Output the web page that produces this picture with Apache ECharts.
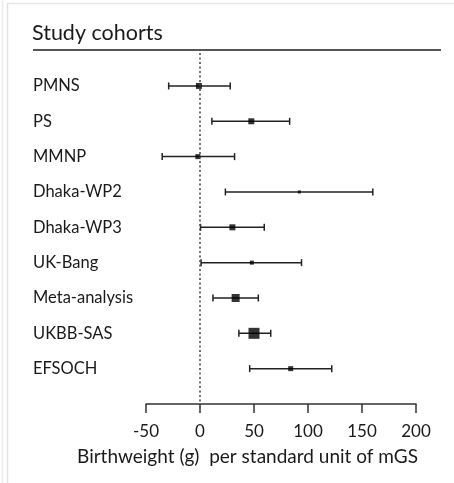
<!DOCTYPE html>
<html>
<head>
<meta charset="utf-8">
<script src="https://cdn.jsdelivr.net/npm/echarts@6/dist/echarts.min.js"></script>
<style>
  html, body { margin: 0; padding: 0; background: #fff; }
  #chart { width: 454px; height: 483px; }
</style>
</head>
<body>
<div id="chart"></div>
<script>
// Forest plot: birthweight effect per standard unit of mGS, by cohort
const cohorts = ['PMNS', 'PS', 'MMNP', 'Dhaka-WP2', 'Dhaka-WP3', 'UK-Bang', 'Meta-analysis', 'UKBB-SAS', 'EFSOCH'];
const estimates = [-1, 47.5, -2, 92, 30, 48, 33, 50, 84];
const lowerCI = [-29, 11, -35, 23.5, 0.5, 1, 12, 36, 46];
const upperCI = [28, 83, 32, 160, 59.5, 94, 54, 65.5, 122];
// square marker sizes (px), scaled by study weight
const markerSize = [6, 6, 5, 3, 6, 4, 8, 11, 5];
const xTicks = [-50, 0, 50, 100, 150, 200];

const font = 'Lato, "Open Sans", sans-serif';
const ink = '#1a1a1a';

const chart = echarts.init(document.getElementById('chart'), null, { renderer: 'canvas' });

const barData = cohorts.map((c, i) => [i, lowerCI[i], upperCI[i]]);
const pointData = cohorts.map((c, i) => ({ value: [estimates[i], i], symbolSize: markerSize[i] }));

chart.setOption({
  animation: false,
  backgroundColor: '#fff',
  grid: { left: 146, right: 38, top: 50.6, bottom: 79 },
  xAxis: {
    type: 'value',
    min: xTicks[0],
    max: xTicks[xTicks.length - 1],
    interval: 50,
    splitLine: { show: false },
    axisLine: { show: true, onZero: false, lineStyle: { color: '#333', width: 1.5 } },
    axisTick: { show: true, length: 9, lineStyle: { color: '#333', width: 1.5 } },
    axisLabel: { color: ink, fontSize: 17, fontFamily: font, margin: 19 }
  },
  yAxis: {
    type: 'value',
    inverse: true,
    min: -1,
    max: cohorts.length,
    interval: 1,
    splitLine: { show: false },
    axisLine: { show: false },
    axisTick: { show: false },
    axisLabel: {
      align: 'left',
      margin: 113,
      color: ink,
      fontSize: 16.5,
      fontFamily: font,
      formatter: v => (v >= 0 && v < cohorts.length) ? cohorts[v] : ''
    }
  },
  graphic: [
    { type: 'line', shape: { x1: 7, y1: 3.5, x2: 454, y2: 3.5 }, style: { stroke: '#e6e6e6', lineWidth: 1.5 }, silent: true },
    { type: 'line', shape: { x1: 2.5, y1: 0, x2: 2.5, y2: 483 }, style: { stroke: '#ececec', lineWidth: 1.5 }, silent: true },
    { type: 'line', shape: { x1: 7.5, y1: 3, x2: 7.5, y2: 483 }, style: { stroke: '#e2e2e2', lineWidth: 1.5 }, silent: true },
    { type: 'text', left: 32, top: 22, style: { text: 'Study cohorts', font: '21.5px ' + font, fill: ink } },
    { type: 'line', shape: { x1: 33, y1: 50, x2: 441, y2: 50 }, style: { stroke: '#555', lineWidth: 2 }, silent: true },
    { type: 'text', x: 247.5, y: 457, style: { text: 'Birthweight (g)  per standard unit of mGS', font: '19px ' + font, fill: ink, textAlign: 'center', textVerticalAlign: 'middle' } }
  ],
  series: [
    {
      type: 'custom',
      data: barData,
      renderItem: (params, api) => {
        const row = api.value(0);
        const lo = api.coord([api.value(1), row]);
        const hi = api.coord([api.value(2), row]);
        const cap = 3.5;
        const style = { stroke: '#222', lineWidth: 1.5 };
        return {
          type: 'group',
          children: [
            { type: 'line', shape: { x1: lo[0], y1: lo[1], x2: hi[0], y2: hi[1] }, style },
            { type: 'line', shape: { x1: lo[0], y1: lo[1] - cap, x2: lo[0], y2: lo[1] + cap }, style },
            { type: 'line', shape: { x1: hi[0], y1: hi[1] - cap, x2: hi[0], y2: hi[1] + cap }, style }
          ]
        };
      },
      markLine: {
        silent: true,
        symbol: ['none', 'none'],
        label: { show: false },
        lineStyle: { type: [2, 2.5], color: '#444', width: 1.5 },
        data: [[{ coord: [0, -0.93] }, { coord: [0, cohorts.length] }]]
      },
      z: 2
    },
    {
      type: 'scatter',
      symbol: 'rect',
      data: pointData,
      itemStyle: { color: '#000' },
      z: 3
    }
  ]
});
</script>
</body>
</html>
